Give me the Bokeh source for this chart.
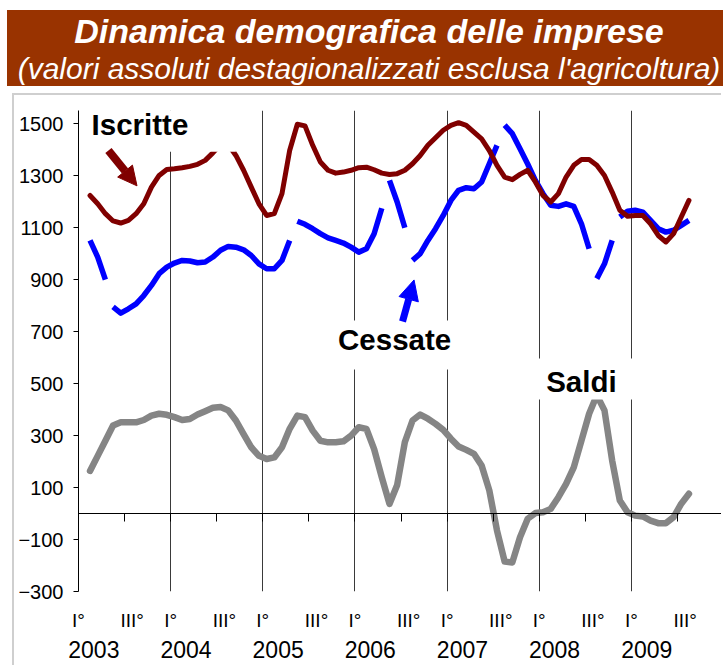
import numpy as np
from bokeh.plotting import figure
from bokeh.models import (Range1d, FixedTicker, LinearAxis, BoxAnnotation, Label,
                          Arrow, NormalHead, Div)
from bokeh.layouts import column
from bokeh.embed import file_html
from bokeh.resources import INLINE

FONT = "Liberation Sans"

title_line1 = "Dinamica demografica delle imprese"
title_line2 = "(valori assoluti destagionalizzati esclusa l'agricoltura)"

# month index counted from January 2003 (= 0); series run Feb 2003 .. Aug 2009
month_index = list(range(1, 80))

iscritte = [1224, 1192, 1154, 1126, 1118, 1128, 1154, 1192, 1256, 1301,
            1324, 1327, 1331, 1336, 1344, 1359, 1388, 1420, 1420, 1378,
            1321, 1256, 1192, 1147, 1154, 1231, 1397, 1498, 1492, 1417,
            1353, 1321, 1310, 1314, 1321, 1331, 1333, 1323, 1310, 1305,
            1308, 1321, 1346, 1378, 1417, 1446, 1475, 1494, 1504, 1494,
            1468, 1442, 1397, 1340, 1295, 1285, 1305, 1321, 1276, 1224,
            1199, 1231, 1295, 1340, 1362, 1362, 1340, 1301, 1237, 1167,
            1144, 1147, 1147, 1115, 1070, 1045, 1077, 1141, 1205]

cessate = [1051, 987, 900, 795, 771, 788, 807, 839, 878, 923,
           948, 964, 974, 972, 965, 968, 987, 1013, 1028, 1025,
           1015, 993, 961, 942, 942, 974, 1051, 1125, 1113, 1096,
           1077, 1061, 1051, 1041, 1025, 1006, 1019, 1077, 1175, 1282,
           1199, 1100, 974, 1000, 1051, 1096, 1147, 1205, 1244, 1254,
           1250, 1276, 1346, 1417, 1495, 1462, 1404, 1345, 1282, 1231,
           1186, 1182, 1192, 1182, 1115, 1019, 904, 961, 1051, 1141,
           1163, 1167, 1160, 1128, 1096, 1083, 1090, 1109, 1128]
# month indices after which the "Cessate" line is interrupted
cessate_breaks = [3, 27, 39, 42, 54, 66, 69]

saldi = [164, 222, 280, 339, 351, 351, 351, 360, 377, 384,
         380, 371, 360, 364, 381, 394, 407, 410, 397, 358,
         306, 255, 222, 210, 216, 255, 326, 377, 371, 319,
         280, 274, 274, 278, 300, 332, 326, 248, 139, 37,
         110, 275, 358, 381, 365, 345, 322, 288, 258, 245,
         230, 185, 89, -65, -185, -188, -91, -20, 2, 5,
         18, 63, 114, 178, 281, 384, 455, 397, 204, 50,
         5, -8, -11, -27, -37, -37, -14, 38, 76]

years = ["2003", "2004", "2005", "2006", "2007", "2008", "2009"]
quarter_labels = ["I°", "III°"]
y_ticks = [-300, -100, 100, 300, 500, 700, 900, 1100, 1300, 1500]

# ---------------------------------------------------------------------------
xpos = [m + 0.5 for m in month_index]

bx, by = [], []
for m, v in zip(month_index, cessate):
    bx.append(m + 0.5)
    by.append(v)
    if m in cessate_breaks:
        bx.append(np.nan)
        by.append(np.nan)

p = figure(width=709, height=572, x_range=Range1d(0, 84), y_range=Range1d(-300, 1551),
           output_backend="svg", toolbar_location=None,
           min_border_left=64, min_border_right=0, min_border_top=15, min_border_bottom=76)
p.outline_line_color = None
p.background_fill_color = "white"
p.border_fill_color = "white"
p.styles = {"margin-left": "12px", "margin-top": "5px",
            "border-left": "2px solid #cfcfcf", "border-top": "2px solid #cfcfcf"}

# grid: vertical lines at year boundaries
p.ygrid.visible = False
p.xgrid.ticker = FixedTicker(ticks=[12 * k for k in range(1, 7)])
p.xgrid.grid_line_color = "#3a3a3a"
p.xgrid.grid_line_width = 1

# y axis
ya = p.yaxis[0]
ya.ticker = FixedTicker(ticks=y_ticks)
ya.major_tick_out = 5
ya.major_tick_in = 0
ya.minor_tick_line_color = None
ya.axis_line_color = "#000000"
ya.major_tick_line_color = "#000000"
ya.major_label_text_font = FONT
ya.major_label_text_font_size = "20px"
ya.major_label_text_color = "#000000"
ya.major_label_standoff = 10

# zero-crossing category axis (line + half-year tick marks)
xa = p.xaxis[0]
xa.fixed_location = 0
xa.ticker = FixedTicker(ticks=[6 * k for k in range(0, 15)])
xa.major_tick_out = 8
xa.major_tick_in = 0
xa.minor_tick_line_color = None
xa.axis_line_color = "#000000"
xa.major_tick_line_color = "#000000"
xa.major_label_text_color = None
xa.major_label_text_font_size = "1px"

# quarter labels
q_ticks, q_over = [], {}
for k in range(len(years)):
    q_ticks += [12 * k, 12 * k + 7]
    q_over[12 * k] = quarter_labels[0]
    q_over[12 * k + 7] = quarter_labels[1]
qa = LinearAxis(ticker=FixedTicker(ticks=q_ticks), major_label_overrides=q_over,
                axis_line_color=None, major_tick_line_color=None, minor_tick_line_color=None,
                major_tick_out=0, major_tick_in=0,
                major_label_standoff=18, major_label_text_font=FONT,
                major_label_text_font_size="19px", major_label_text_color="#000000")
p.add_layout(qa, "below")

y_ticks_x = [12 * k + 2 for k in range(len(years))]
yr = LinearAxis(ticker=FixedTicker(ticks=y_ticks_x),
                major_label_overrides={t: y for t, y in zip(y_ticks_x, years)},
                axis_line_color=None, major_tick_line_color=None, minor_tick_line_color=None,
                major_tick_out=0, major_tick_in=0,
                major_label_standoff=7, major_label_text_font=FONT,
                major_label_text_font_size="23px", major_label_text_color="#000000")
p.add_layout(yr, "below")

# series
p.line(xpos, saldi, line_color="#858585", line_width=6.5, line_join="round", line_cap="round")
p.line(bx, by, line_color="#0000ff", line_width=5.5, line_join="round")
p.line(xpos, iscritte, line_color="#800000", line_width=5, line_join="round", line_cap="round")

# white label boxes (hide gridlines / lines behind the labels)
for l, r, b, t in [(0.5, 20.5, 1392, 1560), (33.5, 49.5, 554, 743), (59.9, 73.2, 439, 597)]:
    p.add_layout(BoxAnnotation(left=l, right=r, bottom=b, top=t, fill_color="white",
                               fill_alpha=1, line_color=None, level="annotation"))

for txt, x, y in [("Iscritte", 1.7, 1499), ("Cessate", 33.8, 670), ("Saldi", 60.9, 510)]:
    p.add_layout(Label(x=x, y=y, text=txt, text_font=FONT, text_font_size="29.5px",
                       text_font_style="bold", text_color="#000000",
                       text_align="left", text_baseline="alphabetic"))

red = "#800000"
blue = "#0000ff"
p.add_layout(Arrow(end=NormalHead(size=19, fill_color=red, line_color=red),
                   x_start=3.9, y_start=1397, x_end=7.62, y_end=1261,
                   line_color=red, line_width=8))
p.add_layout(Arrow(end=NormalHead(size=20, fill_color=blue, line_color=blue),
                   x_start=42.2, y_start=739, x_end=43.7, y_end=899,
                   line_color=blue, line_width=7))

html = f"""<div style="width:723px;height:88px;background:#ffffff;margin:0;padding:0;overflow:hidden;"><div style="margin:10px 0 0 7px;width:716px;height:76px;background:#993300;color:#ffffff;font-family:'Liberation Sans',Arial,sans-serif;text-align:center;"><div style="padding-top:1px;padding-left:8px;line-height:40px;font-size:34px;font-weight:bold;font-style:italic;white-space:nowrap;">{title_line1}</div><div style="padding-left:8px;line-height:36px;font-size:30px;font-style:italic;white-space:nowrap;">{title_line2}</div></div></div>"""
head = Div(text=html, width=723, height=88, margin=0)

layout = column(head, p, spacing=0)

with open("out.html", "w") as f:
    f.write(file_html(layout, INLINE))
